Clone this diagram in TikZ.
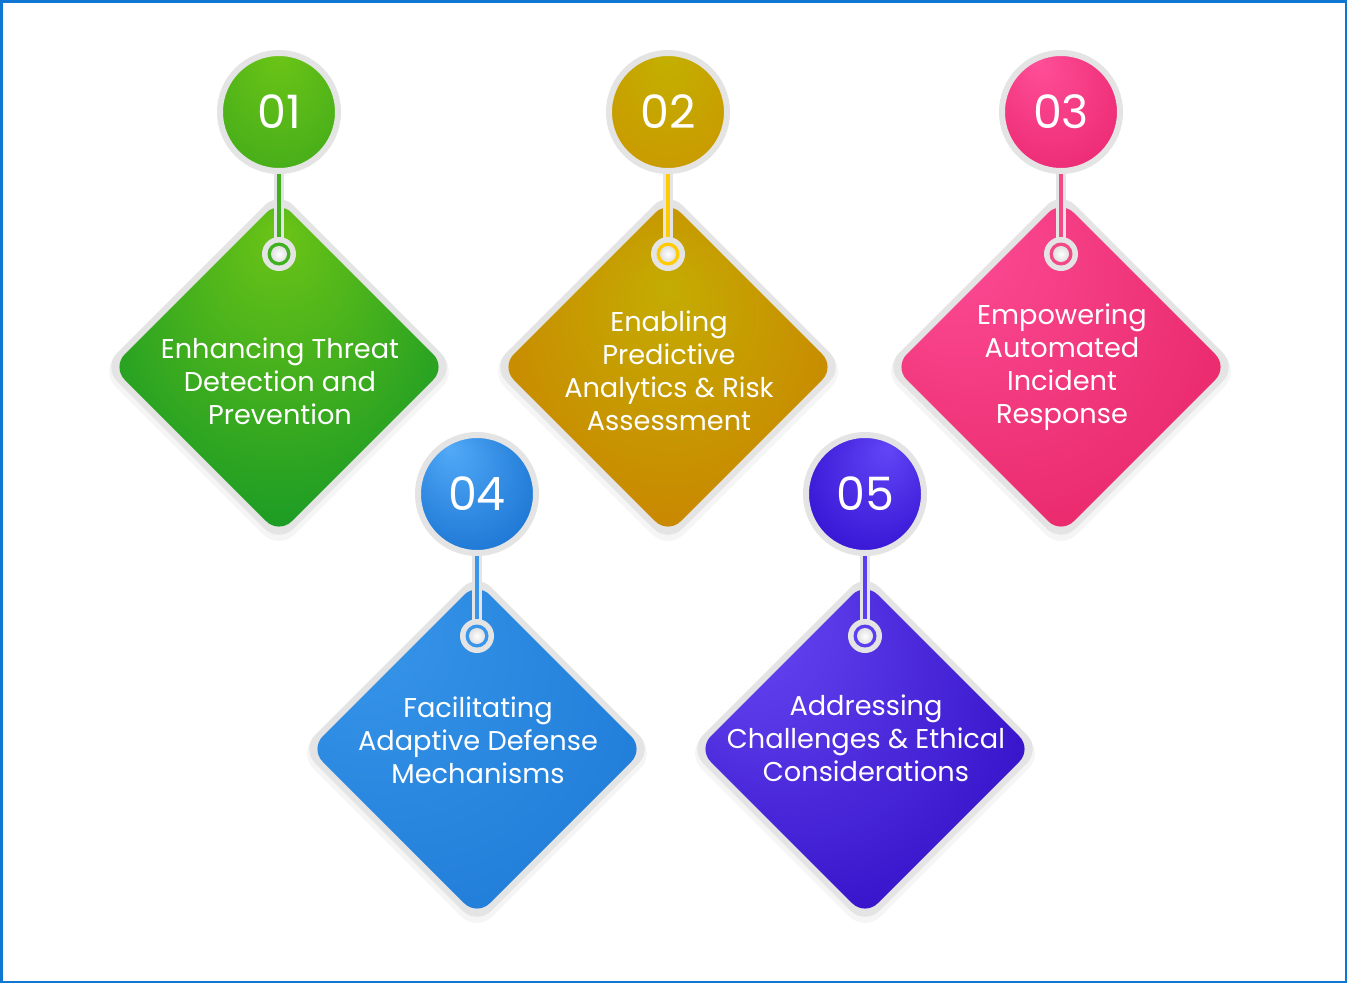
\documentclass[tikz,border=0pt]{standalone}
\usepackage{fontspec}
\setmainfont{Poppins}
\usepackage{xcolor}
\definecolor{Frame}{HTML}{0F76D2}
\definecolor{Rim}{HTML}{E4E4E4}
\definecolor{Stem1}{HTML}{3FB01E}
\definecolor{Stem2}{HTML}{FFCB05}
\definecolor{Stem3}{HTML}{F24A86}
\definecolor{Stem4}{HTML}{3A96EA}
\definecolor{Stem5}{HTML}{5B3DF2}
% diamond fills
\pgfdeclareradialshading{dia1}{\pgfpoint{0bp}{21bp}}{color(0bp)=(rgb,255:red,108;green,196;blue,22); color(40bp)=(rgb,255:red,0;green,142;blue,42)}
\pgfdeclareradialshading{dia2}{\pgfpoint{0bp}{12bp}}{color(0bp)=(rgb,255:red,196;green,172;blue,2); color(42bp)=(rgb,255:red,204;green,118;blue,0)}
\pgfdeclareradialshading{dia3}{\pgfpoint{-22bp}{24bp}}{color(0bp)=(rgb,255:red,255;green,80;blue,154); color(44bp)=(rgb,255:red,226;green,28;blue,92)}
\pgfdeclareradialshading{dia4}{\pgfpoint{-25bp}{25bp}}{color(0bp)=(rgb,255:red,59;green,153;blue,236); color(46bp)=(rgb,255:red,24;green,116;blue,210)}
\pgfdeclareradialshading{dia5}{\pgfpoint{-24bp}{25bp}}{color(0bp)=(rgb,255:red,110;green,80;blue,250); color(42bp)=(rgb,255:red,38;green,0;blue,186)}
% number discs
\pgfdeclareradialshading{disc1}{\pgfpoint{0bp}{26bp}}{color(0bp)=(rgb,255:red,108;green,197;blue,22); color(44bp)=(rgb,255:red,58;green,166;blue,27)}
\pgfdeclareradialshading{disc2}{\pgfpoint{0bp}{24bp}}{color(0bp)=(rgb,255:red,195;green,176;blue,0); color(44bp)=(rgb,255:red,204;green,146;blue,0)}
\pgfdeclareradialshading{disc3}{\pgfpoint{-10bp}{22bp}}{color(0bp)=(rgb,255:red,255;green,79;blue,152); color(44bp)=(rgb,255:red,230;green,30;blue,104)}
\pgfdeclareradialshading{disc4}{\pgfpoint{-12bp}{20bp}}{color(0bp)=(rgb,255:red,82;green,170;blue,248); color(44bp)=(rgb,255:red,10;green,100;blue,198)}
\pgfdeclareradialshading{disc5}{\pgfpoint{10bp}{20bp}}{color(0bp)=(rgb,255:red,98;green,70;blue,246); color(44bp)=(rgb,255:red,40;green,4;blue,200)}
\tikzset{
  tagtext/.style={text=white, align=center, inner sep=0pt, font=\fontsize{27.2}{33}\selectfont},
  numdisc/.style={circle, shade, draw=Rim, line width=6pt, minimum size=118pt, inner sep=0pt, text=white, font=\fontsize{46}{46}\selectfont}
}
\newcommand{\hangtag}[6]{
  \begin{scope}[shift={(#1,#2)}]
    \fill[black!4, rounded corners=22pt] (0,-172) -- (179,4) -- (0,183) -- (-179,4) -- cycle;
    \fill[Rim, rounded corners=20pt] (0,-176) -- (176,0) -- (0,176) -- (-176,0) -- cycle;
    \shade[shading=dia#3, rounded corners=18pt] (0,-167) -- (167,0) -- (0,167) -- (-167,0) -- cycle;
    \node[tagtext] (t#3) at (1,#5) {#6};
    % disc, stem and ring
    \node[numdisc, shading=disc#3] (n#3) at (0,-255) {#4};
    \coordinate (r#3) at (0,-113);
    \draw[Rim, line width=10pt] (n#3.south) -- (r#3);
    \draw[Stem#3, line width=4pt] (n#3.south) -- (r#3);
    \fill[Rim] (r#3) circle (17);
    \fill[Stem#3] (r#3) circle (11.5);
    \shade[inner color=white, outer color=black!12] (r#3) circle (8);
  \end{scope}
}
\begin{document}
\begin{tikzpicture}[x=1pt, y=-1pt]
    \useasboundingbox (0,0) rectangle (1347,983);
    \fill[white] (0,0) rectangle (1347,983);
    \hangtag{279}{367}{1}{01}{14}{Enhancing Threat\\Detection and\\Prevention}
    \hangtag{668}{367}{2}{02}{4}{Enabling\\Predictive\\Analytics \& Risk\\Assessment}
    \hangtag{1061}{367}{3}{03}{0}{Empowering\\Automated\\Incident\\Response}
    \hangtag{477}{749}{4}{04}{-9}{Facilitating\\Adaptive Defense\\Mechanisms}
    \hangtag{865}{749}{5}{05}{-11}{Addressing\\Challenges \& Ethical\\Considerations}
    \draw[Frame, line width=2.5pt] (1.25,1.25) rectangle (1345.75,981.75);
  \end{tikzpicture}
\end{document}
